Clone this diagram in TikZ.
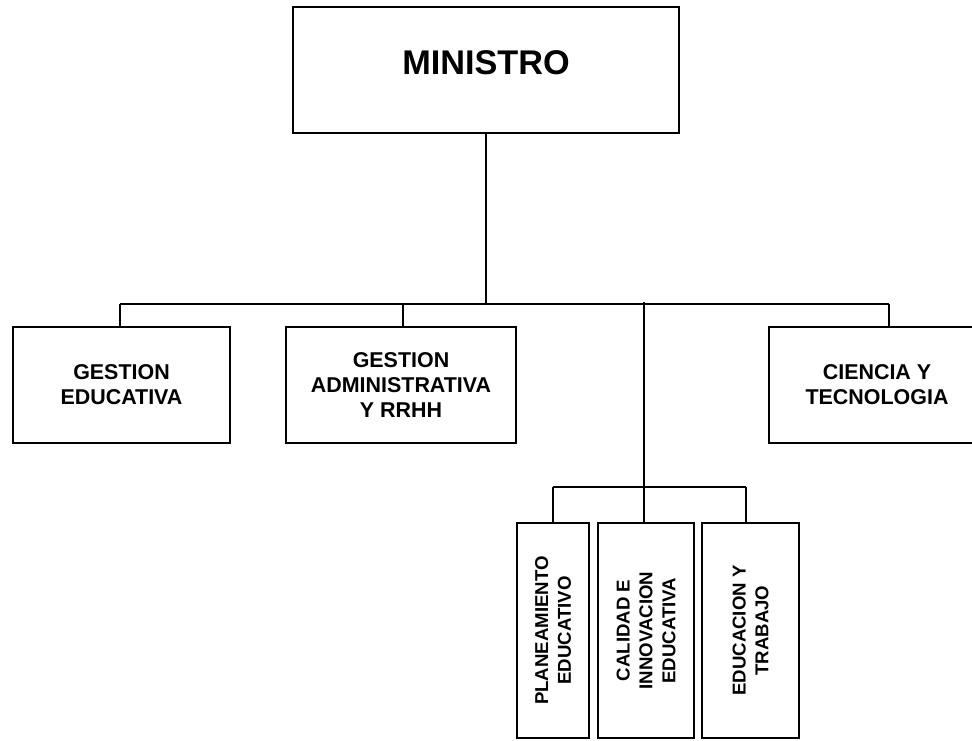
\documentclass[tikz,border=0pt]{standalone}
\usepackage{fontspec}
\setmainfont{Liberation Sans}
\usepackage{tikz}
\usetikzlibrary{positioning,calc}

\tikzset{
  unit/.style={draw, line width=0.9pt, inner sep=2pt, align=center,
    font=\fontsize{12.2}{14.2}\selectfont\bfseries},
  headbox/.style={draw, line width=0.9pt, minimum width=7.72cm, minimum height=2.52cm,
    font=\fontsize{19.5}{22}\selectfont\bfseries, text depth=0.28cm},
  subunit/.style={unit, rotate=90, minimum width=4.3cm,
    font=\fontsize{10.6}{13}\selectfont\bfseries},
  link/.style={line width=0.65pt}
}

\begin{document}
\begin{tikzpicture}[x=0.02cm, y=-0.02cm]
 \useasboundingbox (0,0) rectangle (972,740);
% nodes
 \node[headbox] (ministro) at (486,70) {MINISTRO};

 \node[unit, minimum width=4.34cm, minimum height=2.32cm] (gedu) at (121.5,385) {GESTION\\EDUCATIVA};
 \node[unit, minimum width=4.6cm, minimum height=2.32cm] (gadm) at (401,385) {GESTION\\ADMINISTRATIVA\\Y RRHH};
 \node[unit, minimum width=4.32cm, minimum height=2.32cm] (cyt) at (877,385) {CIENCIA Y\\TECNOLOGIA};

 \node[subunit, minimum height=1.44cm] (plan) at (553,630.5) {PLANEAMIENTO\\EDUCATIVO};
 \node[subunit, minimum height=1.92cm] (calid) at (646,630.5) {CALIDAD E\\INNOVACION\\EDUCATIVA};
 \node[subunit, minimum height=1.94cm] (etrab) at (750.5,630.5) {EDUCACION Y\\TRABAJO};

% junctions
 \coordinate (j1) at (120,304);
 \coordinate (j2) at (403,304);
 \coordinate (j3) at (644,302);
 \coordinate (j4) at (889,304);
 \coordinate (k1) at (553,487);
 \coordinate (k3) at (746,487);

% edges
 \draw[link] (ministro.south) -- (ministro.south |- j1);
 \draw[link] (j1) -- (j4);
 \draw[link] (j1) -- (j1 |- gedu.north);
 \draw[link] (j2) -- (j2 |- gadm.north);
 \draw[link] (j4) -- (j4 |- cyt.north);
 \draw[link] (j3) -- (j3 |- calid.east);

 \draw[link] (k1) -- (k3);
 \draw[link] (k1) -- (k1 |- plan.east);
 \draw[link] (k3) -- (k3 |- etrab.east);
\end{tikzpicture}
\end{document}
